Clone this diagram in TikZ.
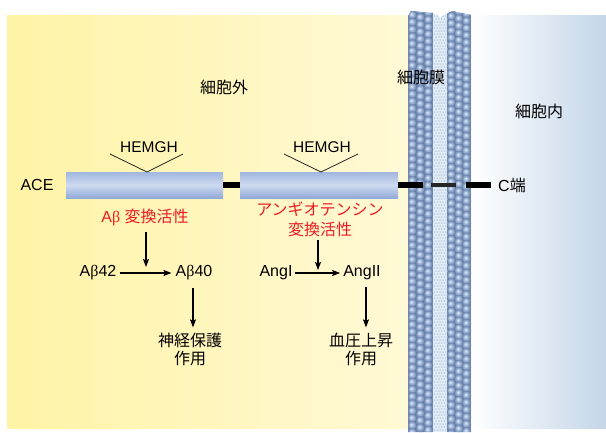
\documentclass[tikz,border=0pt]{standalone}
\usepackage{fontspec}
\setmainfont{Liberation Sans}
\newfontfamily\jp{Noto Sans CJK JP}
\newfontfamily\grk{Liberation Serif}
\usetikzlibrary{arrows.meta}

\definecolor{outsideL}{RGB}{255,243,165}
\definecolor{outsideR}{RGB}{255,249,214}
\definecolor{insideR}{RGB}{196,214,232}
\definecolor{leafdark}{RGB}{112,136,176}
\definecolor{sphhi}{RGB}{232,240,250}
\definecolor{sphmid}{RGB}{170,192,222}
\definecolor{sphedge}{RGB}{120,145,186}
\definecolor{sphdark}{RGB}{96,120,160}
\definecolor{tailbg}{RGB}{226,236,244}
\definecolor{taildot}{RGB}{168,190,214}
\definecolor{domtop}{RGB}{160,182,222}
\definecolor{dommid}{RGB}{206,218,240}
\definecolor{dombot}{RGB}{146,170,216}
\definecolor{actred}{RGB}{236,28,36}

% lipid head group: soft blue sphere lit from the upper left
\pgfdeclareradialshading{lipidhead}{\pgfpoint{-7bp}{7bp}}{%
  color(0bp)=(sphhi); color(9bp)=(sphmid); color(20bp)=(sphedge);
  color(25bp)=(sphdark); color(50bp)=(sphdark)}

\begin{document}
\begin{tikzpicture}[x=1pt,y=-1pt,
  lbl/.style={inner sep=1pt, font=\fontsize{16}{19}\selectfont},
  motif/.style={inner sep=1pt, font=\fontsize{15.5}{18}\selectfont},
  act/.style={inner sep=1pt, text=actred, align=center, font=\fontsize{16}{19.5}\selectfont},
  effect/.style={inner sep=1pt, align=center, font=\fontsize{16}{18}\selectfont},
  domainbox/.style={draw=none, minimum height=26pt, inner sep=0pt,
    top color=domtop, bottom color=dombot, middle color=dommid},
  linker/.style={line width=6pt, black},
  vshape/.style={line width=0.8pt, black!85},
  flow/.style={line width=1.1pt, -{Stealth[length=8pt,width=6pt,inset=1.5pt]}}]

\useasboundingbox (0,0) rectangle (606,432);
\fill[white] (0,0) rectangle (606,432);

% extracellular and intracellular spaces
\shade[left color=outsideL, right color=outsideR] (7,15) rectangle (410,428);
\shade[left color=white, right color=insideR] (470,15) rectangle (606,428);

% lipid bilayer
\begin{scope}
  \clip (408,16) -- (411,11) -- (433,13) -- (440,17) -- (448,13) -- (452,11)
        -- (471,15) -- (471,432) -- (408,432) -- cycle;
  \fill[leafdark] (408,0) rectangle (433,432);
  \fill[leafdark] (447,0) rectangle (471,432);
  \fill[tailbg] (433,0) rectangle (447,432);
  \foreach \r in {0,...,143}{
    \foreach \c in {0,...,4}{
      \pgfmathsetmacro\tx{434.6+2.8*\c+1.4*mod(\r,2)}
      \fill[taildot] (\tx,{10+3*\r}) circle (0.75);
    }
  }
  \foreach \r in {0,...,60}{
    \foreach \c in {0,1,2}{
      \pgfmathsetmacro\hy{8+7.2*\r+2.4*\c}
      \shade[shading=lipidhead] ({412.5+8*\c},\hy) circle (4.6);
      \shade[shading=lipidhead] ({451.5+7.6*\c},{\hy+1.2}) circle (4.6);
    }
  }
\end{scope}

% region labels
\node[lbl] (ext) at (224,87) {\jp 細胞外};
\node[lbl] (mem) at (421,77) {\jp 細胞膜};
\node[lbl] (int) at (539,111) {\jp 細胞内};

% ACE domains
\node[domainbox, minimum width=157pt] (d1) at (144.5,185) {};
\node[domainbox, minimum width=158pt] (d2) at (319,185) {};
\node[lbl] (ace) at (37,185) {ACE};
\node[lbl] (cterm) at (512,185) {C{\jp 端}};

\coordinate (tm1) at (423,185);
\coordinate (tm2) at (431,185);
\coordinate (tm3) at (456,185);
\coordinate (tm4) at (466,185);
\draw[linker] (d1.east) -- (d2.west);
\draw[linker] (d2.east) -- (tm1);
\draw[line width=4pt, black!85] (tm2) -- (tm3);
\draw[linker, shorten >=6pt] (tm4) -- (cterm.west);

% active-site motifs
\node[motif] (m1) at (149,147) {HEMGH};
\node[motif] (m2) at (322,147) {HEMGH};
\coordinate (v1l) at (110,154);
\coordinate (v1) at (147,172);
\coordinate (v1r) at (183,154);
\coordinate (v2l) at (284,154);
\coordinate (v2) at (321,172);
\coordinate (v2r) at (358,154);
\draw[vshape] (v1l) -- (v1) -- (v1r);
\draw[vshape] (v2l) -- (v2) -- (v2r);

% catalytic activities
\node[act] (act1) at (145,217) {A{\grk β} {\jp 変換活性}};
\node[act] (act2) at (320,219.5) {\jp アンギオテンシン\\\jp 変換活性};

% substrates and products
\node[lbl] (ab42) at (98,273) {A{\grk β}42};
\node[lbl] (ab40) at (194,273) {A{\grk β}40};
\node[lbl] (ang1) at (276,273) {AngI};
\node[lbl] (ang2) at (362,273) {AngII};
\draw[flow, shorten <=2pt, shorten >=3pt] (ab42) -- (ab40);
\draw[flow, shorten <=1pt, shorten >=2pt] (ang1) -- (ang2);

\coordinate (hit1) at (146,273);
\coordinate (hit2) at (318,273);
\draw[flow, shorten <=5pt, shorten >=6pt] (act1.south -| hit1) -- (hit1);
\draw[flow, shorten <=2pt, shorten >=3pt] (act2.south -| hit2) -- (hit2);

% physiological effects
\node[effect] (neuro) at (190,349) {\jp 神経保護\\\jp 作用};
\node[effect] (bp) at (361,349) {\jp 血圧上昇\\\jp 作用};
\draw[flow, shorten <=6pt, shorten >=4pt] (ab40.south -| 193,0) -- (neuro.north -| 193,0);
\draw[flow, shorten <=6pt, shorten >=4pt] (ang2.south -| 366,0) -- (bp.north -| 366,0);

\end{tikzpicture}
\end{document}
